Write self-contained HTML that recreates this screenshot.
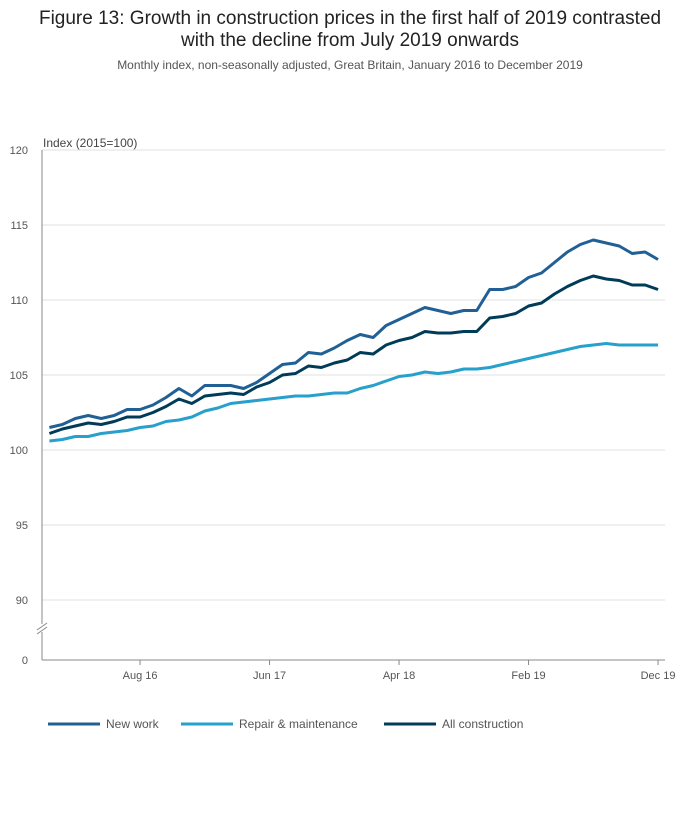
<!DOCTYPE html>
<html><head><meta charset="utf-8"><style>
body{margin:0;background:#fff;font-family:"Liberation Sans",sans-serif;}
svg text{font-family:"Liberation Sans",sans-serif;}
</style></head><body>
<svg width="700" height="810">
<text x="350" y="24" text-anchor="middle" font-size="19" fill="#222">Figure 13: Growth in construction prices in the first half of 2019 contrasted</text>
<text x="350" y="46" text-anchor="middle" font-size="19" fill="#222">with the decline from July 2019 onwards</text>
<text x="350" y="69" text-anchor="middle" font-size="12" fill="#555">Monthly index, non-seasonally adjusted, Great Britain, January 2016 to December 2019</text>
<text x="43" y="147" font-size="12" fill="#444">Index (2015=100)</text>
<g id="grid"></g><g id="lines"></g><g id="legend"></g>
</svg>
<script>
const months=48;
const xTicks=[["Aug 16",7],["Jun 17",17],["Apr 18",27],["Feb 19",37],["Dec 19",47]];
const yTicks=[90,95,100,105,110,115,120];
const newWork=[101.5,101.7,102.1,102.3,102.1,102.3,102.7,102.7,103.0,103.5,104.1,103.6,104.3,104.3,104.3,104.1,104.5,105.1,105.7,105.8,106.5,106.4,106.8,107.3,107.7,107.5,108.3,108.7,109.1,109.5,109.3,109.1,109.3,109.3,110.7,110.7,110.9,111.5,111.8,112.5,113.2,113.7,114.0,113.8,113.6,113.1,113.2,112.7];
const repair=[100.6,100.7,100.9,100.9,101.1,101.2,101.3,101.5,101.6,101.9,102.0,102.2,102.6,102.8,103.1,103.2,103.3,103.4,103.5,103.6,103.6,103.7,103.8,103.8,104.1,104.3,104.6,104.9,105.0,105.2,105.1,105.2,105.4,105.4,105.5,105.7,105.9,106.1,106.3,106.5,106.7,106.9,107.0,107.1,107.0,107.0,107.0,107.0];
const allCon=[101.1,101.4,101.6,101.8,101.7,101.9,102.2,102.2,102.5,102.9,103.4,103.1,103.6,103.7,103.8,103.7,104.2,104.5,105.0,105.1,105.6,105.5,105.8,106.0,106.5,106.4,107.0,107.3,107.5,107.9,107.8,107.8,107.9,107.9,108.8,108.9,109.1,109.6,109.8,110.4,110.9,111.3,111.6,111.4,111.3,111.0,111.0,110.7];
const NS="http://www.w3.org/2000/svg";
const x=i=>49.4+i*12.95;
const y=v=>150+(120-v)*15;
function mk(t,a,p){const e=document.createElementNS(NS,t);for(const k in a)e.setAttribute(k,a[k]);p.appendChild(e);return e;}
const grid=document.getElementById('grid');
yTicks.forEach(v=>{
 const l=mk('line',{x1:42,x2:665,y1:y(v),y2:y(v),stroke:'#e0e0e0'},grid);
 
 
 const t=mk('text',{x:28,y:y(v)+4,'text-anchor':'end','font-size':11,fill:'#555'},grid);t.textContent=v;
 
 
});
let zt=mk('text',{x:28,y:664,'text-anchor':'end','font-size':11,fill:'#555'},grid);zt.textContent='0';


let ax=mk('line',{x1:42,x2:42,y1:150,y2:660,stroke:'#888'},grid);


mk('rect',{x:36,y:624,width:12,height:8,fill:'#fff'},grid);
mk('line',{x1:37,y1:630,x2:47,y2:623,stroke:'#888'},grid);
mk('line',{x1:37,y1:634,x2:47,y2:627,stroke:'#888'},grid);
let xa=mk('line',{x1:42,x2:665,y1:660,y2:660,stroke:'#888'},grid);


xTicks.forEach(([lab,i])=>{
 mk('line',{x1:x(i),x2:x(i),y1:660,y2:665,stroke:'#888'},grid);
 const t=mk('text',{x:x(i),y:679,'text-anchor':'middle','font-size':11,fill:'#555'},grid);t.textContent=lab;
 
 
});
const series=[["New work",newWork,"#206095",48,"line-new-work"],["Repair & maintenance",repair,"#27a0cc",181,"line-repair-maintenance"],["All construction",allCon,"#003c57",384,"line-all-construction"]];
const lines=document.getElementById('lines'),leg=document.getElementById('legend');
series.forEach(([name,d,c,lx,dn])=>{
 const p=mk('polyline',{points:d.map((v,i)=>x(i)+','+y(v)).join(' '),fill:'none',stroke:c,'stroke-width':3,'stroke-linejoin':'round'},lines);
 
 
 const g=mk('g',{},leg);
 
 
 mk('line',{x1:lx,x2:lx+52,y1:724,y2:724,stroke:c,'stroke-width':3},g);
 const t=mk('text',{x:lx+58,y:728,'font-size':12,fill:'#555'},g);t.textContent=name;
});
</script>
</body></html>
